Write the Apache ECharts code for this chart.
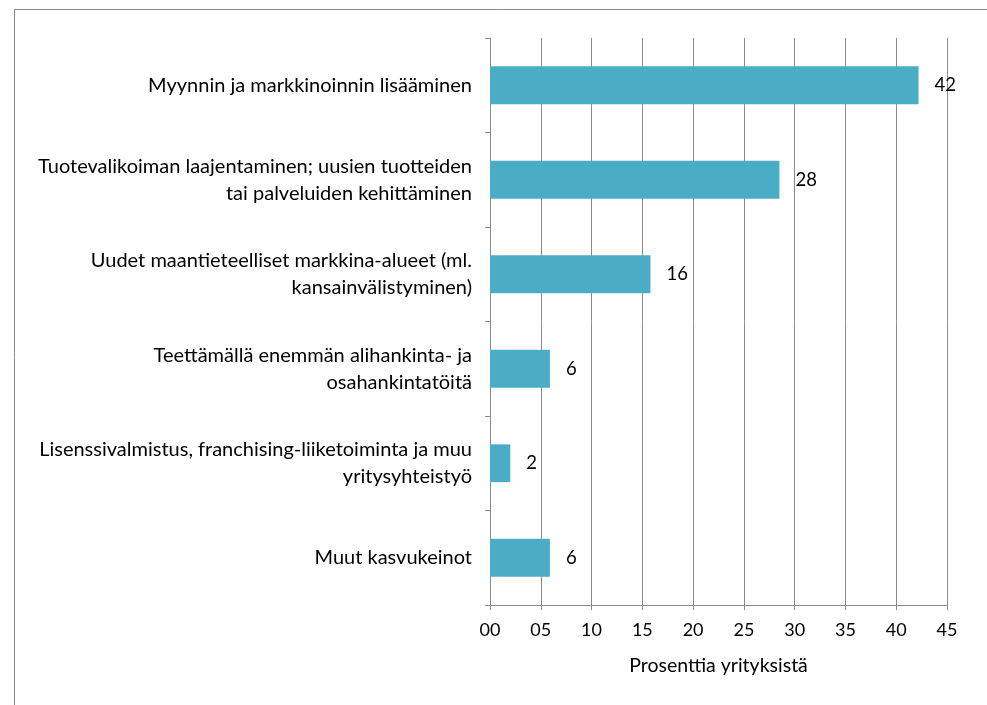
<!DOCTYPE html>
<html>
<head>
<meta charset="utf-8">
<script src="https://cdn.jsdelivr.net/npm/echarts@6/dist/echarts.min.js"></script>
<style>
  html, body { margin: 0; padding: 0; background: #fff; }
  #chart { width: 987px; height: 705px; }
</style>
</head>
<body>
<div id="chart"></div>
<script>
var categories = [
  'Myynnin ja markkinoinnin lisääminen',
  'Tuotevalikoiman laajentaminen; uusien tuotteiden\ntai palveluiden kehittäminen',
  'Uudet maantieteelliset markkina-alueet (ml.\nkansainvälistyminen)',
  'Teettämällä enemmän alihankinta- ja\nosahankintatöitä',
  'Lisenssivalmistus, franchising-liiketoiminta ja muu\nyritysyhteistyö',
  'Muut kasvukeinot'
];
var values = [42.2, 28.5, 15.8, 5.9, 2.0, 5.9];
var valueLabels = ['42', '28', '16', '6', '2', '6'];
var tickLabels = ['00', '05', '10', '15', '20', '25', '30', '35', '40', '45'];
var axisTitle = 'Prosenttia yrityksistä';

var font = 'Lato';
var myChart = echarts.init(document.getElementById('chart'));
myChart.setOption({
  animation: false,
  textStyle: { fontFamily: font },
  graphic: [{
    type: 'rect',
    shape: { x: 14.5, y: 9.5, width: 1000, height: 800 },
    style: { fill: 'none', stroke: '#8a8a8a', lineWidth: 1 }
  }],
  grid: { left: 490, right: 40, top: 38, bottom: 100 },
  xAxis: {
    type: 'value',
    min: 0,
    max: 45,
    interval: 5,
    name: axisTitle,
    nameLocation: 'middle',
    nameGap: 51,
    nameTextStyle: { fontSize: 19.5, color: '#000', fontFamily: font },
    axisLine: { show: true, lineStyle: { color: '#8a8a8a', width: 1 } },
    axisTick: { show: true, length: 5, lineStyle: { color: '#8a8a8a' } },
    axisLabel: {
      fontSize: 18, color: '#000', margin: 16, fontFamily: font,
      formatter: function (v) { return tickLabels[Math.round(v / 5)]; }
    },
    splitLine: { show: true, lineStyle: { color: '#8a8a8a', width: 1 } }
  },
  yAxis: {
    type: 'category',
    data: categories,
    inverse: true,
    axisLine: { show: true, lineStyle: { color: '#8a8a8a', width: 1 } },
    axisTick: { show: true, length: 5, lineStyle: { color: '#8a8a8a' } },
    axisLabel: { fontSize: 20, color: '#000', margin: 18, lineHeight: 27, align: 'right', fontFamily: font }
  },
  series: [{
    type: 'bar',
    data: values,
    barWidth: '40%',
    itemStyle: { color: '#4BACC6' },
    label: {
      show: true,
      position: 'right',
      distance: 16,
      fontSize: 18.5,
      color: '#000',
      fontFamily: font,
      formatter: function (p) { return valueLabels[p.dataIndex]; }
    }
  }]
});
</script>
</body>
</html>
